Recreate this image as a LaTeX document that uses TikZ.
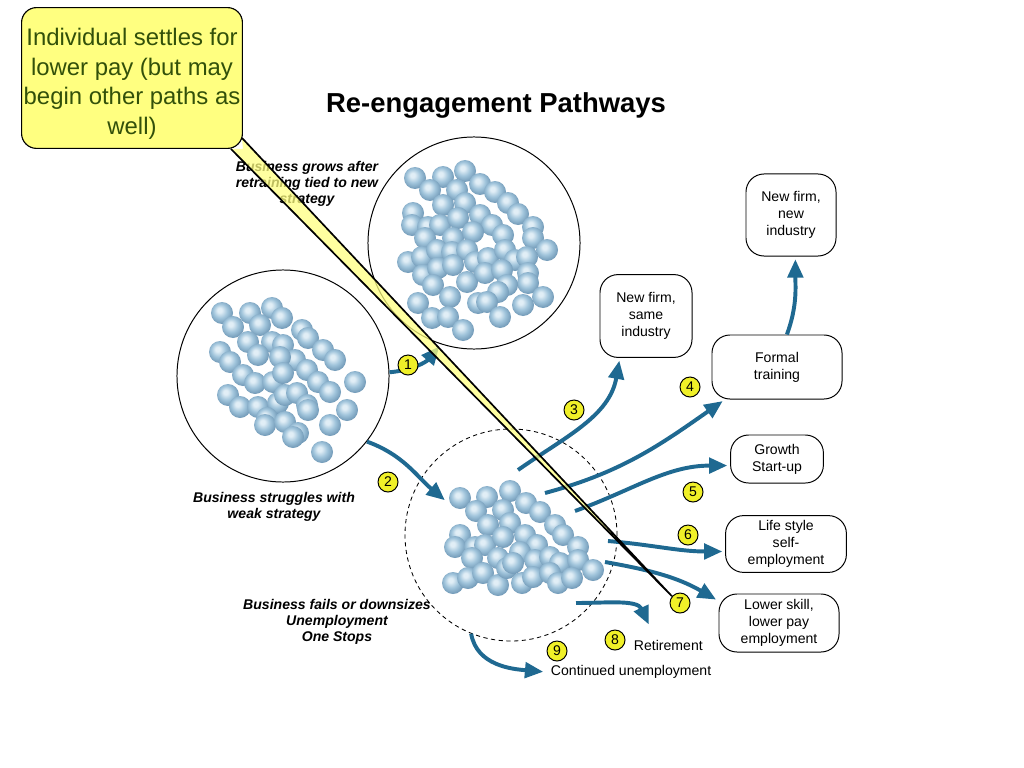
\documentclass[tikz,border=0pt]{standalone}
\usepackage{fontspec}
\setmainfont{Liberation Sans}
\usetikzlibrary{arrows.meta,calc}
\definecolor{flowblue}{RGB}{31,105,145}
\definecolor{numyellow}{RGB}{240,240,40}
\definecolor{noteyellow}{RGB}{255,255,128}
\definecolor{notegreen}{RGB}{50,80,10}
\definecolor{sphhi}{RGB}{225,238,246}
\definecolor{sph}{RGB}{160,196,219}
\definecolor{sphlo}{RGB}{112,152,182}
\pgfdeclareradialshading{sphere}{\pgfpoint{-6bp}{7bp}}{color(0bp)=(sphhi);color(5bp)=(sphhi);color(16bp)=(sph);color(28bp)=(sphlo);color(50bp)=(sphlo)}
\begin{document}
\begin{tikzpicture}[x=0.025cm,y=-0.025cm,
box/.style={draw,line width=0.7pt,rounded corners=0.45cm,align=center,inner sep=0pt,font=\fontsize{10}{12}\selectfont},
num/.style={circle,draw,line width=0.7pt,fill=numyellow,inner sep=0pt,minimum size=0.5cm,font=\fontsize{10}{12}\selectfont},
lbl/.style={align=center,font=\fontsize{10}{11.5}\selectfont\bfseries\itshape},
txt/.style={anchor=west,font=\fontsize{10}{12}\selectfont},
grp/.style={circle,draw,line width=0.7pt,minimum size=5.3cm,inner sep=0pt},
ball/.style={shading=sphere},
flow/.style={flowblue,line width=2.8pt,-{Triangle[length=13pt,width=11pt]},shorten >=2pt}]
\useasboundingbox(0,0)rectangle(1024,768);
\node[font=\fontsize{19.5}{22}\selectfont\bfseries](title)at(496,105){Re-engagement Pathways};
\node[grp](uc)at(474,243){};
\node[grp](lc)at(283,376){};
\node[grp,dash pattern=on 3pt off 2.5pt,line width=0.6pt](dc)at(511,535){};
\foreach \x/\y in {415/178,443/177,465/171,480/184,495/192,430/190,457/190,443/205,465/203,508/203,518/214,413/213,412/225,428/227,440/225,458/218,480/215,492/225,533/227,425/238,453/238,473/232,503/235,533/238,547/250,408/262,422/257,437/250,452/252,467/250,475/262,488/258,505/250,515/260,527/257,423/275,438/268,453/265,467/282,485/273,502/270,528/273,528/283,507/285,498/292,433/285,450/297,418/303,478/303,487/302,523/305,543/297,432/318,448/317,500/317,463/330}
\shade[ball](\x,\y)circle(11);
\foreach \x/\y in {222/313,250/313,272/308,233/327,260/325,282/318,302/330,308/338,248/342,272/342,283/345,220/352,230/362,258/355,323/350,335/360,295/360,280/357,243/375,255/383,273/382,283/373,307/370,318/382,330/392,355/382,228/395,240/407,258/407,278/403,285/395,297/393,307/405,308/410,347/410,267/418,265/425,285/422,298/433,293/437,330/425,322/452}
\shade[ball](\x,\y)circle(11);
\foreach \x/\y in {460/498,487/497,510/491,526/503,476/511,503/510,540/512,488/525,510/523,555/525,563/535,460/535,455/547,475/547,485/545,503/537,525/535,537/545,520/552,472/558,498/558,535/560,550/557,560/563,578/547,578/560,593/570,453/583,468/578,483/573,498/585,507/568,522/583,533/577,550/573,558/583,572/578,513/563}
\shade[ball](\x,\y)circle(11);
\node[lbl](grows)at(307,184){Business grows after\\retraining tied to new\\strategy};
\node[lbl](struggles)at(274,507){Business struggles with\\weak strategy};
\node[lbl](fails)at(337,622){Business fails or downsizes\\Unemployment\\One Stops};
\node[box,minimum width=2.25cm,minimum height=2.05cm](nfn)at(791,215){New firm,\\new\\industry};
\node[box,minimum width=2.3cm,minimum height=2.07cm](nfs)at(646,316){New firm,\\same\\industry};
\node[box,minimum width=3.25cm,minimum height=1.6cm](ft)at(777,367){Formal\\training};
\node[box,minimum width=2.32cm,minimum height=1.2cm](gs)at(777,459){Growth\\Start-up};
\node[box,minimum width=3.02cm,minimum height=1.42cm](ls)at(786,544){Life style\\self-\\employment};
\node[box,minimum width=3cm,minimum height=1.45cm](lsk)at(779,623){Lower skill,\\lower pay\\employment};
\node[txt](ret)at(629,645){Retirement};
\node[txt](cu)at(546,672){Continued unemployment};
\coordinate(a2)at(447,502);
\coordinate(s3)at(518,470);
\coordinate(s4)at(545,493);
\coordinate(s5)at(575,511);
\coordinate(s6)at(608,541);
\coordinate(s7)at(605,562);
\coordinate(s8)at(576,603);
\coordinate(a8)at(650,627);
\draw[flow](lc.2)to[out=5,in=-130](uc.252);
\draw[flow](lc.-38)to[out=-20,in=140](a2);
\draw[flow](s3)to[out=35,in=-100](nfs.238);
\draw[flow](s4)to[out=15,in=-145](ft.212);
\draw[flow](s5)to[out=20,in=180](gs.188);
\draw[flow](s6)to[out=-5,in=180](ls.187);
\draw[flow](s7)to[out=-10,in=150](lsk.160);
\draw[flow](s8)to[out=0,in=115](a8);
\draw[flow](dc.248)to[out=-80,in=175](cu.west);
\draw[flow](ft.73)to[out=70,in=-90](nfn.276);
\foreach \n/\x/\y in {1/408/365,2/388/482,3/574/410,4/690/387,5/693/492,6/688/535,7/680/603,8/615/640,9/557/651}
\node[num](n\n)at(\x,\y){\n};
\node[draw,line width=0.8pt,fill=noteyellow,rounded corners=0.375cm,minimum width=5.52cm,minimum height=3.52cm](note)at(132,78){};
\node[text=notegreen,align=center,font=\fontsize{17}{21}\selectfont](notetext)at(132,84){Individual settles for\\lower pay (but may\\begin other paths as\\well)};
\coordinate(b1)at($(note.south east)+(-12,0)$);
\coordinate(b2)at($(note.south east)+(-1,-11)$);
\fill[noteyellow,fill opacity=0.75](b1)--(note.south east)--(b2)--(n7.140)--cycle;
\draw[line width=1.2pt](b1)--(n7.140)--(b2);
\end{tikzpicture}
\end{document}
